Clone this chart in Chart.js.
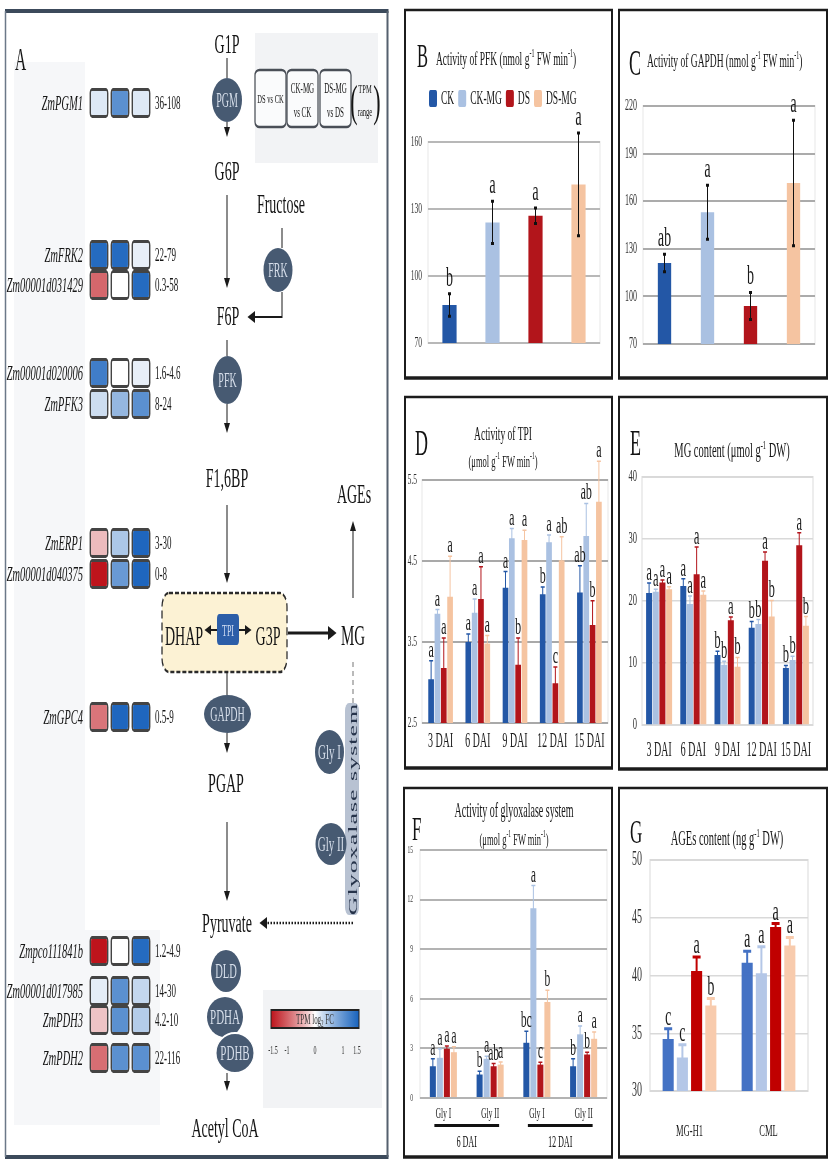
<!DOCTYPE html>
<html>
<head>
<meta charset="utf-8">
<script src="https://cdn.jsdelivr.net/npm/chart.js@4.4.1/dist/chart.umd.min.js"></script>
<style>
  html, body { margin: 0; padding: 0; background: #fff; overflow: hidden; }
  /* the whole figure is laid out twice as wide, then squeezed like the original */
  #root { position: absolute; left: 0; top: 0; width: 1672px; height: 1174px;
          transform: scaleX(0.5); transform-origin: 0 0; }
  #art { position: absolute; left: 0; top: 0; }
  .cw { position: absolute; }
</style>
</head>
<body>
<div id="root">
  <svg id="art" width="1672" height="1174" xmlns="http://www.w3.org/2000/svg"
       font-family="'Liberation Serif', 'Times New Roman', serif"></svg>
  <div class="cw" style="left:10px;top:0;width:400px;height:1174px"><canvas id="heat"></canvas></div>
  <div class="cw" style="left:808px;top:10px;width:418px;height:368px"><canvas id="pfk"></canvas></div>
  <div class="cw" style="left:1236px;top:10px;width:420px;height:368px"><canvas id="gapdh"></canvas></div>
  <div class="cw" style="left:808px;top:397px;width:418px;height:371px"><canvas id="tpi"></canvas></div>
  <div class="cw" style="left:1236px;top:397px;width:420px;height:371px"><canvas id="mg"></canvas></div>
  <div class="cw" style="left:806px;top:788px;width:420px;height:369px"><canvas id="gly"></canvas></div>
  <div class="cw" style="left:1236px;top:788px;width:420px;height:369px"><canvas id="ages"></canvas></div>
</div>
<script>
const FONT = "'Liberation Serif', 'Times New Roman', serif";

// ---------- A: transcript changes (log2 FC) ----------
const comparisons = ['DS vs CK', 'CK-MG vs CK', 'DS-MG vs DS'];
const genes = ['ZmPGM1', 'ZmFRK2', 'Zm00001d031429', 'Zm00001d020006', 'ZmPFK3', 'ZmERP1',
  'Zm00001d040375', 'ZmGPC4', 'Zmpco111841b', 'Zm00001d017985', 'ZmPDH3', 'ZmPDH2'];
const geneFC = [
  [0.15, 1.0, 0.15],
  [1.4, 1.4, 0.1],
  [-0.9, 0, 1.4],
  [1.2, 0, 0.1],
  [0.25, 0.6, 1.0],
  [-0.35, 0.45, 1.45],
  [-1.5, 0.9, 1.45],
  [-0.8, 1.45, 1.45],
  [-1.5, 0, 1.4],
  [0.12, 1.0, 0.3],
  [-0.3, 1.0, 0.4],
  [-0.85, 1.0, 1.0]
];
const tpmRange = ['36-108', '22-79', '0.3-58', '1.6-4.6', '8-24', '3-30', '0-8', '0.5-9',
  '1.2-4.9', '14-30', '4.2-10', '22-116'];
const fcTicks = [-1.5, -1, 0, 1, 1.5];
// layout only: row centre of each gene, beside its pathway step
const geneRowY = [103, 255, 285, 373, 404, 543, 574, 717, 951, 991, 1020, 1058];

// ---------- B-G: enzyme activities and contents ----------
const treatments = ['CK', 'CK-MG', 'DS', 'DS-MG'];

const pfkTicks = [70, 100, 130, 160];
const pfkMean = [87, 124, 127, 141];
const pfkSE = [5, 9.5, 3.5, 23];
const pfkSig = ['b', 'a', 'a', 'a'];

const gapdhTicks = [70, 100, 130, 160, 190, 220];
const gapdhMean = [121, 153, 94, 171.5];
const gapdhSE = [5.5, 17, 8.5, 39.5];
const gapdhSig = ['ab', 'a', 'b', 'a'];

const days = ['3 DAI', '6 DAI', '9 DAI', '12 DAI', '15 DAI'];
const tpiTicks = [2.5, 3.5, 4.5, 5.5];
const tpiMean = [
  [3.04, 3.5, 4.17, 4.09, 4.11],
  [3.85, 3.86, 4.78, 4.73, 4.81],
  [3.18, 4.03, 3.22, 2.99, 3.71],
  [4.06, 3.48, 4.76, 4.51, 5.23]
];
const tpiSE = [
  [0.23, 0.1, 0.2, 0.09, 0.33],
  [0.05, 0.17, 0.12, 0.09, 0.4],
  [0.37, 0.4, 0.33, 0.2, 0.3],
  [0.5, 0.1, 0.12, 0.29, 0.5]
];
const tpiSig = [
  ['a', 'a', 'a', 'b', 'ab'],
  ['a', 'a', 'a', 'a', 'ab'],
  ['a', 'a', 'b', 'c', 'b'],
  ['a', 'a', 'a', 'ab', 'a']
];

const mgTicks = [0, 10, 20, 30, 40];
const mgMean = [
  [21.3, 22.4, 11.3, 15.7, 9.2],
  [21.5, 19.5, 9.7, 16.3, 10.5],
  [23.0, 24.3, 16.9, 26.5, 29.0],
  [21.9, 21.0, 9.4, 17.5, 16.0]
];
const mgSE = [
  [1.6, 1.2, 0.6, 1.0, 0.4],
  [0.4, 1.3, 0.6, 0.7, 0.6],
  [0.4, 4.4, 0.5, 1.4, 2.0],
  [0.4, 0.6, 1.5, 2.6, 1.5]
];
const mgSig = [
  ['a', 'a', 'b', 'b', 'b'],
  ['a', 'a', 'b', 'b', 'b'],
  ['a', 'a', 'a', 'a', 'a'],
  ['a', 'a', 'b', 'b', 'b']
];

const glyLabels = ['Gly I', 'Gly II', 'Gly I', 'Gly II'];
const glyDays = ['6 DAI', '12 DAI'];
const glyTicks = [0, 3, 6, 9, 12, 15];
const glyMean = [
  [1.92, 1.42, 3.34, 1.92],
  [2.43, 2.37, 11.48, 3.85],
  [2.98, 1.92, 2.02, 2.63],
  [2.77, 2.02, 5.81, 3.58]
];
const glySE = [
  [0.45, 0.2, 0.7, 0.45],
  [0.55, 0.16, 1.37, 0.5],
  [0.16, 0.16, 0.14, 0.14],
  [0.33, 0.15, 0.7, 0.41]
];
const glySig = [
  ['a', 'b', 'bc', 'b'],
  ['a', 'a', 'a', 'a'],
  ['a', 'ab', 'c', 'b'],
  ['a', 'a', 'b', 'a']
];

const agesLabels = ['MG-H1', 'CML'];
const agesTicks = [30, 35, 40, 45, 50];
const agesMean = [[34.5, 41.1], [32.9, 40.2], [40.4, 44.2], [37.4, 42.6]];
const agesSE = [[0.9, 1.0], [1.1, 2.3], [1.2, 0.3], [0.6, 0.7]];
const agesSig = [['c', 'a'], ['c', 'a'], ['a', 'a'], ['b', 'a']];

// colours
const treatColors = ['#2357a6', '#aac1e2', '#b2151b', '#f5c4a1'];
const treatColorsG = ['#4472c4', '#b4c7e7', '#c00000', '#f8cbad'];

function fcColor(v) {
  const t = Math.pow(Math.min(Math.abs(v) / 1.5, 1), 0.85);
  const end = v < 0 ? [190, 20, 28] : [24, 98, 188];
  return 'rgb(' + end.map(e => Math.round(255 + (e - 255) * t)).join(',') + ')';
}

// ---------- drawing of the pathway, frames and titles (svg) ----------
const svg = [];
const P = s => svg.push(s);
function t(x, y, s, size, o = {}) {
  P(`<text x="${x}" y="${y}" font-size="${size}" text-anchor="${o.a || 'middle'}" fill="${o.f || '#141414'}"${o.i ? ' font-style="italic"' : ''}>${s}</text>`);
}
function ln(x1, y1, x2, y2, w = 2, c = '#1a1a1a', dash) {
  P(`<line x1="${x1}" y1="${y1}" x2="${x2}" y2="${y2}" stroke="${c}" stroke-width="${w}"${dash ? ` stroke-dasharray="${dash}"` : ''}/>`);
}
const tri = pts => P(`<polygon points="${pts}" fill="#1a1a1a"/>`);
function down(x, y1, tip) { ln(x, y1, x, tip - 8); tri(`${x - 6},${tip - 10} ${x + 6},${tip - 10} ${x},${tip}`); }
function up(x, y1, tip) { ln(x, y1, x, tip + 8); tri(`${x - 6},${tip + 10} ${x + 6},${tip + 10} ${x},${tip}`); }
function enzyme(cx, cy, rx, ry, label, fs = 20, ring) {
  P(`<ellipse cx="${cx}" cy="${cy}" rx="${rx}" ry="${ry}" fill="#475a72"${ring ? ' stroke="#ffffff" stroke-width="2"' : ''}/>`);
  t(cx, cy + fs * 0.34, label, fs, { f: '#d6deea' });
}
function rich(parts, supSize) {
  return parts.map((p, k) => k === 0 ? p
    : (k % 2 ? `<tspan dy="-8" font-size="${supSize}">${p}</tspan>` : `<tspan dy="8">${p}</tspan>`)).join('');
}

// panel A background and frame
P('<rect x="28" y="62" width="142" height="1063" fill="#f6f7f9"/>');
P('<rect x="170" y="930" width="150" height="195" fill="#f6f7f9"/>');
ln(10, 11, 777, 11, 4, '#3c4a5b');
ln(10, 1157, 777, 1157, 4, '#3c4a5b');
ln(11, 11, 11, 1157, 3, '#6b7888');
ln(775, 11, 775, 1157, 4, '#55606e');
t(30, 70, 'A', 31, { a: 'start' });

// column key
P('<rect x="510" y="33" width="246" height="130" fill="#f2f3f5"/>');
[[510, 572], [574, 636], [640, 702]].forEach(([x0, x1], k) => {
  P(`<rect x="${x0}" y="70" width="${x1 - x0}" height="57" rx="9" ry="5" fill="#fafbfc" stroke="#4a4f57" stroke-width="2.5"/>`);
  const cx = (x0 + x1) / 2, lab = comparisons[k];
  const cut = lab.indexOf(' vs ');
  if (lab.length <= 8) t(cx, 103, lab, 13);
  else { t(cx, 93, lab.slice(0, cut), 14); t(cx, 117, lab.slice(cut + 1), 14); }
});
t(730, 93, 'TPM', 13); t(730, 116, 'range', 13);
t(708, 116, '(', 44); t(754, 116, ')', 44);

// glycolysis
t(454, 53, 'G1P', 28);
ln(454, 58, 454, 78);
enzyme(454, 100, 30, 22, 'PGM');
down(454, 122, 137);
t(454, 180, 'G6P', 28);
down(454, 195, 288);
t(456, 325, 'F6P', 28);
t(562, 213, 'Fructose', 28);
ln(564, 228, 564, 248);
enzyme(556, 270, 29, 22, 'FRK');
P('<polyline points="564,292 564,317 508,317" fill="none" stroke="#1a1a1a" stroke-width="2"/>');
tri('510,311 510,323 495,317');
ln(454, 340, 454, 356);
enzyme(455, 380, 29, 24, 'PFK');
down(454, 404, 433);
t(454, 487, 'F1,6BP', 28);
down(454, 505, 583);
P('<rect x="324" y="593" width="250" height="79" rx="14" fill="#fcf2d4" stroke="#2a2a2a" stroke-width="2.5" stroke-dasharray="8 4"/>');
t(368, 645, 'DHAP', 28);
P('<rect x="434" y="614" width="44" height="31" rx="5" fill="#2c5ea8"/>');
t(456, 636, 'TPI', 16, { f: '#d0ddf2' });
ln(434, 630, 420, 630); tri('422,625 422,635 409,630');
ln(478, 630, 492, 630); tri('490,625 490,635 503,630');
t(536, 645, 'G3P', 28);
ln(576, 633, 658, 633, 3); tri('656,626 656,640 673,633');
t(706, 645, 'MG', 30);
up(706, 598, 521);
t(708, 503, 'AGEs', 28);
ln(706, 662, 706, 703, 2, '#777', '5 4');
P('<rect x="690" y="703" width="28" height="212" rx="8" fill="#b8c2d2"/>');
P('<text transform="translate(705,809) rotate(-90)" font-size="26" text-anchor="middle" dominant-baseline="central" fill="#26334a" letter-spacing="1">Glyoxalase system</text>');
enzyme(659, 752, 29, 22, 'Gly I', 22);
enzyme(662, 844, 31, 21, 'Gly II', 22);
ln(706, 923, 534, 923, 2.5, '#1a1a1a', '3 3'); tri('534,917 534,929 519,923');
ln(454, 672, 454, 695);
enzyme(455, 714, 47, 19, 'GAPDH');
down(454, 733, 753);
t(452, 792, 'PGAP', 28);
down(454, 822, 901);
t(454, 932, 'Pyruvate', 28);
enzyme(452, 971, 30, 21, 'DLD', 21);
enzyme(450, 1017, 36, 20, 'PDHA', 22);
enzyme(470, 1053, 38, 20, 'PDHB', 22, true);
down(454, 1073, 1091);
t(450, 1137, 'Acetyl CoA', 28);

// colour key
const stops = [];
for (let k = 0; k <= 12; k++) stops.push(`<stop offset="${k / 12}" stop-color="${fcColor(-1.5 + k / 4)}"/>`);
P(`<defs><linearGradient id="fcg" x1="0" x2="1" y1="0" y2="0">${stops.join('')}</linearGradient></defs>`);
P('<rect x="526" y="990" width="238" height="118" fill="#f2f3f5"/>');
P('<rect x="542" y="1010" width="176" height="18" fill="url(#fcg)" stroke="#222" stroke-width="2"/>');
t(630, 1024, 'TPM log<tspan dy="3" font-size="10">2</tspan><tspan dy="-3"> FC</tspan>', 14, { f: '#333' });
fcTicks.forEach(v => t(546 + (v + 1.5) / 3 * 168, 1054, v, 12, { f: '#333' }));

// frames of B-G
[[808, 1226, 10, 378], [1236, 1656, 10, 378], [808, 1226, 397, 768],
 [1236, 1656, 397, 769], [806, 1226, 788, 1157], [1236, 1656, 788, 1157]].forEach(([x0, x1, y0, y1]) => {
  ln(x0, y0, x1, y0, 2.5, '#1c1c1c');
  ln(x0, y1, x1, y1, 3.5, '#1c1c1c');
  ln(x0 + 2, y0, x0 + 2, y1, 4, '#1c1c1c');
  ln(x1 - 2, y0, x1 - 2, y1, 4, '#1c1c1c');
});

// titles
t(834, 67, 'B', 33, { a: 'start' });
t(872, 65, rich(['Activity of PFK (nmol g', '-1', ' FW min', '-1', ')'], 12), 19, { a: 'start' });
t(1258, 75, 'C', 36, { a: 'start' });
t(1294, 67, rich(['Activity of GAPDH (nmol g', '-1', ' FW min', '-1', ')'], 12), 19, { a: 'start' });
t(830, 455, 'D', 36, { a: 'start' });
t(1006, 440, 'Activity of TPI', 19);
t(1006, 467, rich(['(μmol g', '-1', ' FW min', '-1', ')'], 11), 17);
t(1260, 455, 'E', 36, { a: 'start' });
t(1464, 457, rich(['MG content (μmol g', '-1', ' DW)'], 13), 21);
t(824, 840, 'F', 34, { a: 'start' });
t(1028, 817, 'Activity of glyoxalase system', 20);
t(1028, 845, rich(['(μmol g', '-1', ' FW min', '-1', ')'], 11), 17);
t(1260, 843, 'G', 34, { a: 'start' });
t(1454, 845, rich(['AGEs content (ng g', '-1', ' DW)'], 13), 21);

// legend of treatments (panel B)
const meas = document.createElement('canvas').getContext('2d');
meas.font = `19px ${FONT}`;
let lx = 858;
treatments.forEach((name, i) => {
  P(`<rect x="${lx}" y="90" width="16" height="17" rx="3" fill="${treatColors[i]}"/>`);
  t(lx + 24, 104, name, 19, { a: 'start' });
  lx += 24 + meas.measureText(name).width + 8;
});

document.getElementById('art').innerHTML = svg.join('');

// ---------- heatmap cells (Chart.js floating bars) ----------
const geneLabels = {
  id: 'geneLabels',
  afterDatasetsDraw(chart) {
    const { ctx, chartArea: a, scales: { y } } = chart;
    ctx.save();
    ctx.fillStyle = '#161616';
    ctx.textBaseline = 'middle';
    genes.forEach((g, i) => {
      const py = y.getPixelForValue(geneRowY[i]);
      ctx.font = `italic 21px ${FONT}`; ctx.textAlign = 'right';
      ctx.fillText(g, a.left - 11, py + 1);
      ctx.font = `18px ${FONT}`; ctx.textAlign = 'left';
      ctx.fillText(tpmRange[i], a.right + 7, py + 1);
    });
    ctx.restore();
  }
};

new Chart(document.getElementById('heat'), {
  type: 'bar',
  data: {
    labels: comparisons,
    datasets: genes.map((g, i) => ({
      label: g,
      data: comparisons.map(() => [geneRowY[i] - 15, geneRowY[i] + 15]),
      backgroundColor: geneFC[i].map(fcColor),
      borderColor: '#444',
      borderWidth: 3,
      borderRadius: 5,
      borderSkipped: false,
      grouped: false,
      barPercentage: 0.9,
      categoryPercentage: 1
    }))
  },
  options: {
    responsive: true,
    maintainAspectRatio: false,
    animation: false,
    layout: { padding: { left: 167, right: 107, top: 0, bottom: 0 } },
    plugins: { legend: { display: false }, tooltip: { enabled: false } },
    scales: {
      x: { display: false },
      y: { display: false, min: 0, max: 1174, reverse: true }
    }
  },
  plugins: [geneLabels]
});

// ---------- bar charts ----------
const plotBox = color => ({
  id: 'plotBox',
  beforeDraw(chart) {
    const { ctx, chartArea: a } = chart;
    ctx.save();
    ctx.strokeStyle = color;
    ctx.lineWidth = 2;
    ctx.strokeRect(a.left, a.top, a.right - a.left, a.bottom - a.top);
    ctx.restore();
  }
});

const errorBars = s => ({
  id: 'errorBars',
  afterDatasetsDraw(chart) {
    const { ctx, scales: { y } } = chart;
    chart.data.datasets.forEach((ds, i) => {
      chart.getDatasetMeta(i).data.forEach((bar, j) => {
        const m = ds.data[j], e = s.err[i][j];
        const top = y.getPixelForValue(m + e), bot = y.getPixelForValue(m - e);
        const col = s.color || (Array.isArray(ds.backgroundColor) ? ds.backgroundColor[j] : ds.backgroundColor);
        ctx.save();
        ctx.strokeStyle = col;
        ctx.lineWidth = s.lw;
        ctx.beginPath(); ctx.moveTo(bar.x, top); ctx.lineTo(bar.x, bot); ctx.stroke();
        ctx.lineWidth = s.capH;
        ctx.beginPath();
        ctx.moveTo(bar.x - s.cap, top); ctx.lineTo(bar.x + s.cap, top);
        ctx.moveTo(bar.x - s.cap, bot); ctx.lineTo(bar.x + s.cap, bot);
        ctx.stroke();
        ctx.fillStyle = '#1a1a1a';
        ctx.font = `${s.font}px ${FONT}`;
        ctx.textAlign = 'center';
        ctx.textBaseline = 'alphabetic';
        ctx.fillText(s.sig[i][j], bar.x, top - s.gap);
        ctx.restore();
      });
    });
  }
});

const glyGroups = {
  id: 'glyGroups',
  afterDraw(chart) {
    const { ctx, chartArea: a, scales: { x } } = chart;
    ctx.save();
    ctx.fillStyle = '#111';
    ctx.font = `16px ${FONT}`;
    ctx.textAlign = 'center';
    glyDays.forEach((g, k) => {
      const x0 = x.getPixelForValue(2 * k), x1 = x.getPixelForValue(2 * k + 1);
      ctx.fillRect(x0 - 18, a.bottom + 26, x1 - x0 + 36, 3);
      ctx.fillText(g, (x0 + x1) / 2, a.bottom + 49);
    });
    ctx.restore();
  }
};

function barChart(id, p) {
  const single = p.series.length === 1;
  const datasets = p.series.map((vals, i) => ({
    label: single ? id : treatments[i],
    data: vals,
    backgroundColor: single ? p.colors : p.colors[i],
    barPercentage: p.barPct,
    categoryPercentage: p.catPct
  }));
  const x = p.xh
    ? {
        grid: { display: false, drawTicks: false },
        border: { display: false },
        ticks: { font: { family: FONT, size: p.xFont }, color: '#1a1a1a', padding: p.xPad },
        afterFit: s => { s.height = p.xh; }
      }
    : { display: false };
  new Chart(document.getElementById(id), {
    type: 'bar',
    data: { labels: p.labels, datasets },
    options: {
      responsive: true,
      maintainAspectRatio: false,
      animation: false,
      layout: { padding: { left: 0, top: p.top, right: p.right, bottom: p.bottom || 0 } },
      plugins: { legend: { display: false }, tooltip: { enabled: false } },
      scales: {
        x,
        y: {
          min: p.ticks[0],
          max: p.ticks[p.ticks.length - 1],
          afterBuildTicks: s => { s.ticks = p.ticks.map(v => ({ value: v })); },
          ticks: { font: { family: FONT, size: p.tickSize }, color: '#333', padding: p.tickPad },
          grid: { color: p.grid, lineWidth: p.gridW, drawTicks: false },
          border: { display: false },
          afterFit: s => { s.width = p.yw; }
        }
      }
    },
    plugins: [plotBox(p.box), errorBars(p.eb)].concat(p.extra || [])
  });
}

barChart('pfk', {
  labels: treatments, series: [pfkMean], colors: treatColors, ticks: pfkTicks,
  yw: 48, top: 132, right: 26, bottom: 35,
  tickSize: 15, tickPad: 12, grid: '#b8b8b8', gridW: 2, box: '#e6e6e6',
  barPct: 0.33, catPct: 1,
  eb: { err: [pfkSE], sig: [pfkSig], color: '#111', lw: 2, cap: 3, capH: 3, font: 28, gap: 8 }
});

barChart('gapdh', {
  labels: treatments, series: [gapdhMean], colors: treatColors, ticks: gapdhTicks,
  yw: 50, top: 96, right: 26, bottom: 34,
  tickSize: 16, tickPad: 12, grid: '#ababab', gridW: 2, box: '#e6e6e6',
  barPct: 0.31, catPct: 1,
  eb: { err: [gapdhSE], sig: [gapdhSig], color: '#111', lw: 2, cap: 3, capH: 3, font: 28, gap: 8 }
});

barChart('tpi', {
  labels: days, series: tpiMean, colors: treatColors, ticks: tpiTicks,
  yw: 36, top: 83, right: 10, xh: 45, xFont: 20, xPad: 7,
  tickSize: 15, tickPad: 10, grid: '#a9a9a9', gridW: 2, box: '#e6e6e6',
  barPct: 0.9, catPct: 0.68,
  eb: { err: tpiSE, sig: tpiSig, lw: 2, cap: 4, capH: 1.5, font: 24, gap: 4 }
});

barChart('mg', {
  labels: days, series: mgMean, colors: treatColors, ticks: mgTicks,
  yw: 48, top: 80, right: 30, xh: 43, xFont: 20, xPad: 14,
  tickSize: 17, tickPad: 10, grid: '#d9d9d9', gridW: 1.5, box: '#dadada',
  barPct: 0.9, catPct: 0.78,
  eb: { err: mgSE, sig: mgSig, lw: 2, cap: 4, capH: 1.5, font: 25, gap: 3 }
});

barChart('gly', {
  labels: glyLabels, series: glyMean, colors: treatColors, ticks: glyTicks,
  yw: 34, top: 62, right: 12, xh: 59, xFont: 15, xPad: 7,
  tickSize: 11, tickPad: 14, grid: '#b3b3b3', gridW: 2, box: '#e6e6e6',
  barPct: 0.86, catPct: 0.6,
  eb: { err: glySE, sig: glySig, lw: 2, cap: 4, capH: 1.5, font: 23, gap: 4 },
  extra: [glyGroups]
});

barChart('ages', {
  labels: agesLabels, series: agesMean, colors: treatColorsG, ticks: agesTicks,
  yw: 64, top: 72, right: 40, xh: 66, xFont: 17, xPad: 30,
  tickSize: 20, tickPad: 16, grid: '#d9d9d9', gridW: 1.5, box: '#d9d9d9',
  barPct: 0.78, catPct: 0.72,
  eb: { err: agesSE, sig: agesSig, lw: 4, cap: 8, capH: 3, font: 28, gap: 4 }
});
</script>
</body>
</html>
